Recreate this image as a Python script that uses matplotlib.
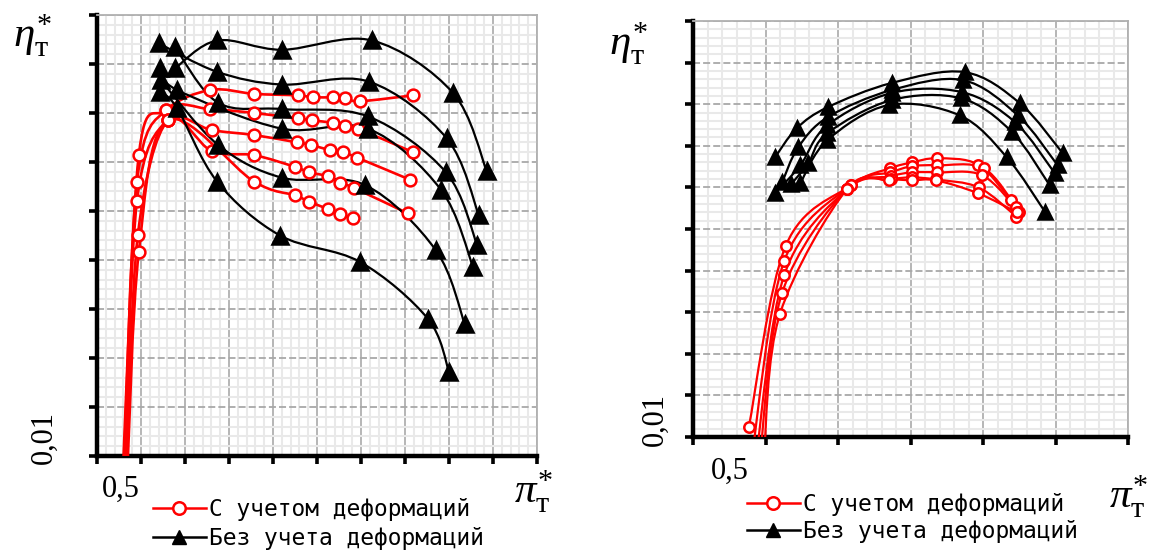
import numpy as np
import matplotlib
matplotlib.use('Agg')
import matplotlib.pyplot as plt
from matplotlib.path import Path
from matplotlib.patches import PathPatch
from matplotlib.lines import Line2D
from matplotlib.ticker import MultipleLocator

plt.rcParams['mathtext.fontset'] = 'custom'
plt.rcParams['mathtext.rm'] = 'Liberation Serif'
plt.rcParams['mathtext.it'] = 'Liberation Serif:italic'

# ---- data (grid units) ----
# left panel: black triangles (without deformation)
left_black_x = [
    [1.77, 2.73, 4.20, 6.25, 8.09, 8.86],
    [1.41, 2.73, 4.20, 6.18, 7.95, 8.68],
    [1.77, 2.75, 4.20, 6.16, 7.93, 8.64],
    [1.43, 1.82, 4.20, 6.16, 7.82, 8.55],
    [1.45, 2.75, 4.20, 6.09, 7.70, 8.36],
    [1.43, 1.82, 2.73, 4.16, 5.98, 7.52, 8.00],
]
left_black_y = [
    [7.91, 8.48, 8.29, 8.48, 7.41, 5.81],
    [8.42, 7.84, 7.58, 7.64, 6.48, 4.91],
    [8.35, 7.21, 7.08, 6.93, 5.79, 4.31],
    [7.91, 7.47, 6.68, 6.68, 5.43, 3.85],
    [7.67, 6.35, 5.68, 5.53, 4.20, 2.69],
    [7.43, 7.10, 5.60, 4.50, 3.96, 2.80, 1.72],
]
# left panel: red circles (with deformation)
left_red_x = [
    [0.59, 0.95, 1.57, 2.57, 3.57, 4.57, 4.91, 5.36, 5.64, 5.98, 7.18],
    [0.61, 0.91, 1.57, 2.57, 3.57, 4.57, 4.89, 5.36, 5.64, 5.93, 7.18],
    [0.63, 0.91, 1.61, 2.61, 3.57, 4.55, 4.86, 5.30, 5.59, 5.91, 7.11],
    [0.66, 0.93, 1.61, 2.61, 3.57, 4.50, 4.82, 5.25, 5.52, 5.84, 7.07],
    [0.69, 0.95, 1.61, 3.57, 4.50, 4.82, 5.25, 5.52, 5.82],
]
left_red_y = [
    [-0.3, 6.14, 7.06, 7.47, 7.39, 7.36, 7.32, 7.32, 7.30, 7.24, 7.36],
    [-0.3, 5.60, 7.06, 7.08, 7.00, 6.89, 6.85, 6.80, 6.74, 6.68, 6.20],
    [-0.3, 5.21, 6.85, 6.65, 6.55, 6.40, 6.35, 6.24, 6.20, 6.09, 5.64],
    [-0.3, 4.52, 6.85, 6.22, 6.14, 5.90, 5.79, 5.71, 5.58, 5.47, 4.95],
    [-0.3, 4.16, 6.85, 5.60, 5.32, 5.19, 5.04, 4.93, 4.85],
]

# right panel
right_black_x = [
    [1.13, 1.43, 1.86, 2.74, 3.75, 4.51, 5.10],
    [1.23, 1.45, 1.86, 2.74, 3.72, 4.48, 5.03],
    [1.13, 1.48, 1.85, 2.74, 3.71, 4.44, 4.99],
    [1.35, 1.59, 1.85, 2.74, 3.70, 4.40, 4.92],
    [1.48, 1.85, 2.70, 3.68, 4.33, 4.86],
]
right_black_y = [
    [6.72, 7.42, 7.93, 8.51, 8.77, 8.02, 6.82],
    [6.12, 6.96, 7.69, 8.34, 8.58, 7.73, 6.53],
    [5.86, 6.53, 7.49, 8.27, 8.29, 7.57, 6.34],
    [6.07, 6.58, 7.30, 8.10, 8.14, 7.33, 6.05],
    [6.10, 7.13, 7.98, 7.73, 6.72, 5.40],
]
right_red_x = [
    [0.77, 1.28, 2.18, 2.72, 3.02, 3.37, 3.93, 4.39],
    [0.82, 1.26, 2.18, 2.72, 3.02, 3.37, 4.01, 4.46],
    [0.88, 1.26, 2.12, 2.73, 3.02, 3.37, 3.99, 4.50],
    [0.93, 1.23, 2.12, 2.73, 3.02, 3.35, 3.94, 4.46],
    [0.98, 1.20, 2.12, 2.70, 3.02, 3.35, 3.93, 4.47],
]
right_red_y = [
    [0.24, 4.60, 6.05, 6.46, 6.60, 6.70, 6.55, 5.69],
    [-0.35, 4.24, 6.05, 6.36, 6.51, 6.53, 6.46, 5.52],
    [-0.35, 3.90, 5.95, 6.27, 6.36, 6.36, 6.29, 5.42],
    [-0.35, 3.47, 5.95, 6.19, 6.24, 6.19, 6.00, 5.30],
    [-0.35, 2.96, 5.95, 6.17, 6.17, 6.17, 5.86, 5.40],
]

legend_labels = ['С учетом деформаций', 'Без учета деформаций']

W, H = 1151, 551


def fx(px):
    return px / W


def fy(py):
    return 1 - py / H


def smooth_path(xs, ys):
    # Catmull-Rom through the points, as cubic Bezier segments
    pts = np.column_stack([xs, ys])
    ext = np.vstack([pts[0], pts, pts[-1]])
    verts = [pts[0]]
    codes = [Path.MOVETO]
    for i in range(len(pts) - 1):
        p0, p1, p2, p3 = ext[i], ext[i + 1], ext[i + 2], ext[i + 3]
        verts += [p1 + (p2 - p0) / 6, p2 - (p3 - p1) / 6, p2]
        codes += [Path.CURVE4] * 3
    return Path(verts, codes)


def style_axes(ax, nx, ny):
    ax.set_xlim(0, nx)
    ax.set_ylim(0, ny)
    ax.xaxis.set_major_locator(MultipleLocator(1))
    ax.yaxis.set_major_locator(MultipleLocator(1))
    ax.xaxis.set_minor_locator(MultipleLocator(0.2))
    ax.yaxis.set_minor_locator(MultipleLocator(0.2))
    ax.grid(which='minor', color='#e9e9e9', lw=1.5)
    ax.xaxis.grid(True, which='major', color='#b0b0b0', lw=1.3, ls='-')
    ax.yaxis.grid(True, which='major', color='#a8a8a8', lw=1.3, ls=(0, (3.9, 1.7)))
    ax.set_axisbelow(True)
    for s in ['top', 'right']:
        ax.spines[s].set_color('#b0b0b0')
        ax.spines[s].set_linewidth(1.3)
    for s in ['left', 'bottom']:
        ax.spines[s].set_color('black')
        ax.spines[s].set_linewidth(3.2)
    ax.tick_params(which='major', direction='out', length=6, width=2.6,
                   color='black', labelbottom=False, labelleft=False)
    ax.tick_params(which='minor', length=0)


def draw_series(ax, xs_list, ys_list, color, marker, ms, lw, filled):
    for xs, ys in zip(xs_list, ys_list):
        ax.add_patch(PathPatch(smooth_path(xs, ys), fill=False, edgecolor=color,
                               lw=lw, zorder=3))
    for xs, ys in zip(xs_list, ys_list):
        ax.plot(xs, ys, ls='none', marker=marker, ms=ms,
                mfc=color if filled else 'white', mec=color,
                mew=1.8, zorder=4)


fig = plt.figure(figsize=(W / 100, H / 100), dpi=100)
fig.set_facecolor('white')

ax1 = fig.add_axes([fx(97), fy(456), fx(440), 441 / H])
style_axes(ax1, 10, 9)
draw_series(ax1, left_red_x, left_red_y, 'red', 'o', 8.5, 1.9, False)
draw_series(ax1, left_black_x, left_black_y, 'black', '^', 11, 1.6, True)

ax2 = fig.add_axes([fx(693), fy(437), fx(435), 416 / H])
style_axes(ax2, 6, 10)
draw_series(ax2, right_black_x, right_black_y, 'black', '^', 10.5, 1.6, True)
draw_series(ax2, right_red_x, right_red_y, 'red', 'o', 7.5, 1.6, False)

# axis texts
eta = r'$\eta^{*}_{\mathrm{т}}$'
pi = r'$\pi^{*}_{\mathrm{т}}$'
serif = dict(family='Liberation Serif', fontsize=22, ha='center', va='center')
fig.text(fx(32), fy(36), eta, fontsize=31, ha='center', va='center')
fig.text(fx(533), fy(492), pi, fontsize=31, ha='center', va='center')
fig.text(fx(44), fy(438), '0,01', rotation=90, **serif)
fig.text(fx(121), fy(489), '0,5', **serif)

fig.text(fx(628), fy(44), eta, fontsize=31, ha='center', va='center')
fig.text(fx(1128), fy(497), pi, fontsize=31, ha='center', va='center')
fig.text(fx(655), fy(419), '0,01', rotation=90, **serif)
fig.text(fx(730), fy(471), '0,5', **serif)

# legends
handles = [
    Line2D([], [], color='red', lw=1.8, marker='o', ms=9, mfc='white', mec='red', mew=1.8),
    Line2D([], [], color='black', lw=1.8, marker='^', ms=10, mfc='black', mec='black'),
]
leg_font = dict(family='DejaVu Sans Mono', size=16.5)
fig.legend(handles, legend_labels, loc='center left', bbox_to_anchor=(fx(153), fy(524)),
           frameon=False, prop=leg_font, handlelength=2.3, handletextpad=0.15,
           labelspacing=0.3, borderpad=0, borderaxespad=0)
fig.legend(handles, legend_labels, loc='center left', bbox_to_anchor=(fx(747), fy(518)),
           frameon=False, prop=leg_font, handlelength=2.3, handletextpad=0.15,
           labelspacing=0.15, borderpad=0, borderaxespad=0)

fig.savefig('out.png', dpi=100, facecolor='white')
